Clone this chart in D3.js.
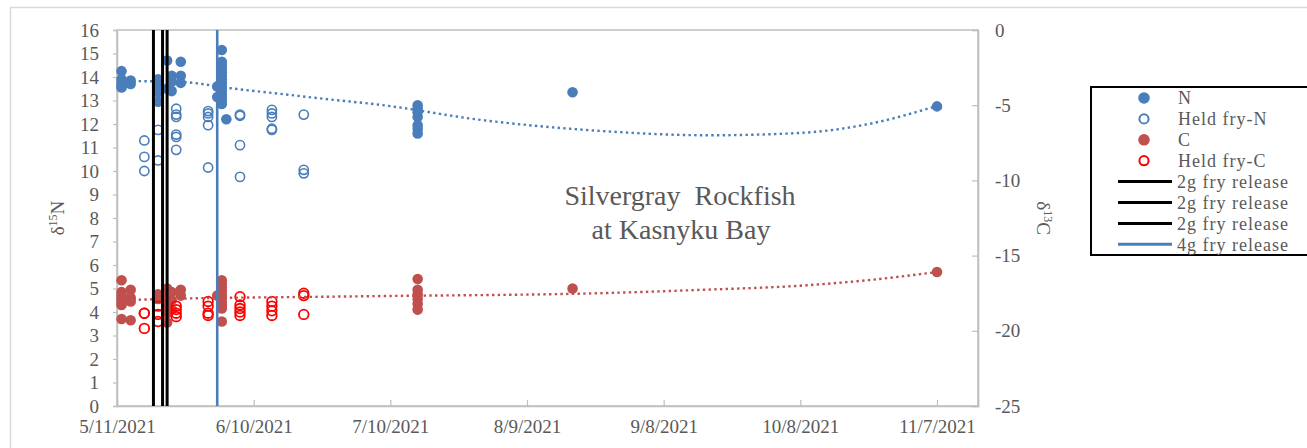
<!DOCTYPE html>
<html><head><meta charset="utf-8">
<script src="https://cdn.jsdelivr.net/npm/d3@7"></script>
<style>
html,body{margin:0;padding:0;background:#fff;}
svg text{font-family:"Liberation Serif","Times New Roman",serif;fill:#595959;}
</style></head>
<body><svg id="c" width="1307" height="448"></svg>
<script>
// ---------- data ----------
const xTickLabels = ["5/11/2021","6/10/2021","7/10/2021","8/9/2021","9/8/2021","10/8/2021","11/7/2021"];
const xDomainLabels = ["5/11/2021","11/16/2021"];
const leftTicks = [0,1,2,3,4,5,6,7,8,9,10,11,12,13,14,15,16];
const rightTicks = [-25,-20,-15,-10,-5,0];

// δ15N, wild fish (filled)
const nFilled = [
  ["5/12/2021",[14.25,13.9,13.75,13.6,13.55]],
  ["5/14/2021",[13.85,13.7]],
  ["5/20/2021",[13.9,13.6,13.35,12.95]],
  ["5/22/2021",[14.7,13.5]],
  ["5/23/2021",[14.05,13.8,13.4]],
  ["5/25/2021",[14.65,14.05,13.75]],
  ["6/2/2021",[13.6,13.15]],
  ["6/3/2021",[15.15,14.65,14.5,14.35,14.2,14.05,13.9,13.75,13.6,13.45,13.3,13.15,13.0,12.85]],
  ["6/4/2021",[12.2]],
  ["7/16/2021",[12.8,12.65,12.5,12.3,11.95,11.8,11.6]],
  ["8/19/2021",[13.35]],
  ["11/7/2021",[12.75]]
];
// δ15N, held fry (open)
const nHeld = [
  ["5/17/2021",[11.3,10.6,10.0]],
  ["5/20/2021",[11.75,10.45]],
  ["5/24/2021",[12.65,12.4,12.3,11.55,11.45,10.9]],
  ["5/31/2021",[12.55,12.45,12.3,11.95,10.15]],
  ["6/7/2021",[12.4,12.35,11.1,9.75]],
  ["6/14/2021",[12.6,12.45,12.3,11.8,11.75]],
  ["6/21/2021",[12.4,10.05,9.9]]
];
// δ13C, wild fish (filled)
const cFilled = [
  ["5/12/2021",[-16.64,-17.42,-17.66,-17.89,-18.13,-18.28,-19.22]],
  ["5/14/2021",[-17.27,-17.81,-18.05,-19.30]],
  ["5/20/2021",[-17.58,-17.89]],
  ["5/22/2021",[-17.19,-17.5,-17.81,-18.28,-18.83,-19.45]],
  ["5/23/2021",[-17.42,-17.97,-18.59]],
  ["5/25/2021",[-17.27,-17.66]],
  ["6/2/2021",[-17.66]],
  ["6/3/2021",[-16.64,-16.88,-17.11,-17.34,-17.58,-17.81,-18.05,-18.28,-18.52,-19.38]],
  ["7/16/2021",[-16.56,-17.27,-17.58,-17.89,-18.20,-18.59]],
  ["8/19/2021",[-17.19]],
  ["11/7/2021",[-16.09]]
];
// δ13C, held fry (open)
const cHeld = [
  ["5/17/2021",[-18.83,-18.83,-19.84]],
  ["5/20/2021",[-18.36,-18.91,-19.38]],
  ["5/24/2021",[-18.36,-18.59,-18.83,-19.06]],
  ["5/31/2021",[-18.05,-18.36,-18.83,-18.98]],
  ["6/7/2021",[-17.73,-18.28,-18.52,-18.75,-18.98]],
  ["6/14/2021",[-18.05,-18.36,-18.67,-18.98]],
  ["6/21/2021",[-17.5,-17.66,-18.91]]
];
// trend lines
const nTrend = [["5/12/2021",13.83],["5/25/2021",13.79],["6/5/2021",13.52],["6/16/2021",13.28],["6/26/2021",13.06],["7/8/2021",12.81],["7/30/2021",12.17],["8/24/2021",11.72],["9/18/2021",11.52],["10/8/2021",11.62],["10/23/2021",12.0],["11/7/2021",12.77]];
const cTrend = [["5/12/2021",-17.97],["5/18/2021",-17.91],["6/27/2021",-17.73],["7/8/2021",-17.69],["8/25/2021",-17.5],["9/16/2021",-17.28],["10/8/2021",-17.0],["10/23/2021",-16.63],["11/7/2021",-16.09]];
// release events
const releaseDates = ["5/19/2021","5/21/2021","5/22/2021","6/2/2021"];
const releaseLabels = ["2g fry release","2g fry release","2g fry release","4g fry release"];
const releaseColors = ["#000000","#000000","#000000","#4A7EBB"];
const legendLabels = ["N","Held fry-N","C","Held fry-C"];

// ---------- drawing ----------
const parse = d3.utcParse("%m/%d/%Y");
const svg = d3.select("#c");
const L=117, R=978, T=30, B=406;
const x = d3.scaleUtc().domain(xDomainLabels.map(parse)).range([L,R]);
const yL = d3.scaleLinear().domain([0,16]).range([B,T]);
const yR = d3.scaleLinear().domain([-25,0]).range([B,T]);
const blue="#4A7EBB", red="#C0504D", bright="#FF0000", axisC="#BFBFBF", txt="#595959";

// outer chart border
svg.append("rect").attr("x",10.5).attr("y",7.5).attr("width",1310).attr("height",460)
  .attr("fill","none").attr("stroke","#D9D9D9").attr("stroke-width",1.5);

// plot frame
svg.append("rect").attr("x",L).attr("y",T).attr("width",R-L).attr("height",B-T)
  .attr("fill","none").attr("stroke",axisC).attr("stroke-width",1.5);

// axes
const gL = svg.append("g").attr("transform",`translate(${L},0)`)
  .call(d3.axisLeft(yL).tickValues(leftTicks).tickSize(4).tickPadding(14).tickFormat(d3.format("d")));
const gR = svg.append("g").attr("transform",`translate(${R},0)`)
  .call(d3.axisRight(yR).tickValues(rightTicks).tickSize(-6).tickPadding(23).tickFormat(d=>d<0?"-"+Math.abs(d):d));
const xTicks = xTickLabels.map(parse);
const gX = svg.append("g").attr("transform",`translate(0,${B})`)
  .call(d3.axisBottom(x).tickValues(xTicks).tickSize(-6).tickPadding(14).tickFormat((d,i)=>xTickLabels[i]));
[gL,gR,gX].forEach(g=>{
  g.select(".domain").attr("stroke",axisC).attr("stroke-width",1.5);
  g.selectAll(".tick line").attr("stroke",axisC).attr("stroke-width",1.2);
  g.selectAll(".tick text").attr("fill",txt).style("font-size","19px")
   .style("font-family",'"Liberation Serif",serif');
});
gX.selectAll(".tick text").attr("dy","0.71em");
gR.selectAll(".tick text").attr("text-anchor","start").attr("x",17);

// axis titles
const tL = svg.append("text").attr("transform","translate(64,218) rotate(-90)")
  .attr("text-anchor","middle").style("font-size","19px");
tL.append("tspan").text("δ");
tL.append("tspan").text("15").style("font-size","12px").attr("dy","-7");
tL.append("tspan").text("N").attr("dy","7");
const tR = svg.append("text").attr("transform","translate(1037,218) rotate(90)")
  .attr("text-anchor","middle").style("font-size","19px");
tR.append("tspan").text("δ");
tR.append("tspan").text("13").style("font-size","12px").attr("dy","-7");
tR.append("tspan").text("C").attr("dy","7");

// chart title
svg.append("text").attr("x",680).attr("y",205).attr("text-anchor","middle")
  .style("font-size","28px").style("white-space","pre").text("Silvergray  Rockfish");
svg.append("text").attr("x",681).attr("y",239).attr("text-anchor","middle")
  .style("font-size","28px").text("at Kasnyku Bay");

const flat = arr => arr.flatMap(([d,vs])=>vs.map(v=>({d:parse(d),v})));

// markers
svg.append("g").selectAll("circle").data(flat(nFilled)).join("circle")
  .attr("cx",p=>x(p.d)).attr("cy",p=>yL(p.v)).attr("r",5.3).attr("fill",blue);
svg.append("g").selectAll("circle").data(flat(nHeld)).join("circle")
  .attr("cx",p=>x(p.d)).attr("cy",p=>yL(p.v)).attr("r",4.6).attr("fill","none")
  .attr("stroke",blue).attr("stroke-width",1.6);
svg.append("g").selectAll("circle").data(flat(cFilled)).join("circle")
  .attr("cx",p=>x(p.d)).attr("cy",p=>yR(p.v)).attr("r",5.3).attr("fill",red);
svg.append("g").selectAll("circle").data(flat(cHeld)).join("circle")
  .attr("cx",p=>x(p.d)).attr("cy",p=>yR(p.v)).attr("r",4.8).attr("fill","none")
  .attr("stroke",bright).attr("stroke-width",1.8);

// trend lines
const lineN = d3.line().x(p=>x(parse(p[0]))).y(p=>yL(p[1])).curve(d3.curveMonotoneX);
const lineC = d3.line().x(p=>x(parse(p[0]))).y(p=>yR(p[1])).curve(d3.curveMonotoneX);
svg.append("path").attr("d",lineN(nTrend)).attr("fill","none").attr("stroke",blue)
  .attr("stroke-width",2.4).attr("stroke-dasharray","2.4,3.3");
svg.append("path").attr("d",lineC(cTrend)).attr("fill","none").attr("stroke",red)
  .attr("stroke-width",2.4).attr("stroke-dasharray","2.4,3.3");

// release lines
svg.append("g").selectAll("line").data(releaseDates).join("line")
  .attr("x1",d=>x(parse(d))).attr("x2",d=>x(parse(d)))
  .attr("y1",yL(16)).attr("y2",yL(0))
  .attr("stroke",(d,i)=>releaseColors[i]).attr("stroke-width",(d,i)=>i<3?3:2.6);

// legend
const lg = svg.append("g");
lg.append("rect").attr("x",1091).attr("y",87).attr("width",230).attr("height",168)
  .attr("fill","#fff").attr("stroke","#000").attr("stroke-width",2);
const rowY = i => 98 + i*20.9;
const symX = 1144, txtX = 1178;
const markerStyles = [
  {fill:blue, stroke:"none", r:5.8},
  {fill:"none", stroke:blue, r:4.6},
  {fill:red, stroke:"none", r:5.8},
  {fill:"none", stroke:bright, r:4.6}
];
legendLabels.forEach((lab,i)=>{
  const s=markerStyles[i];
  lg.append("circle").attr("cx",symX).attr("cy",rowY(i)).attr("r",s.r)
    .attr("fill",s.fill).attr("stroke",s.stroke).attr("stroke-width",2);
  lg.append("text").attr("x",txtX).attr("y",rowY(i)).attr("dy","0.35em")
    .style("font-size","18px").style("letter-spacing","1px").text(lab);
});
releaseLabels.forEach((lab,k)=>{
  const i=k+4;
  lg.append("line").attr("x1",1118).attr("x2",1172).attr("y1",rowY(i)).attr("y2",rowY(i))
    .attr("stroke",releaseColors[k]).attr("stroke-width",3);
  lg.append("text").attr("x",txtX-1).attr("y",rowY(i)).attr("dy","0.35em")
    .style("font-size","18px").style("letter-spacing","1px").text(lab);
});
</script></body></html>
